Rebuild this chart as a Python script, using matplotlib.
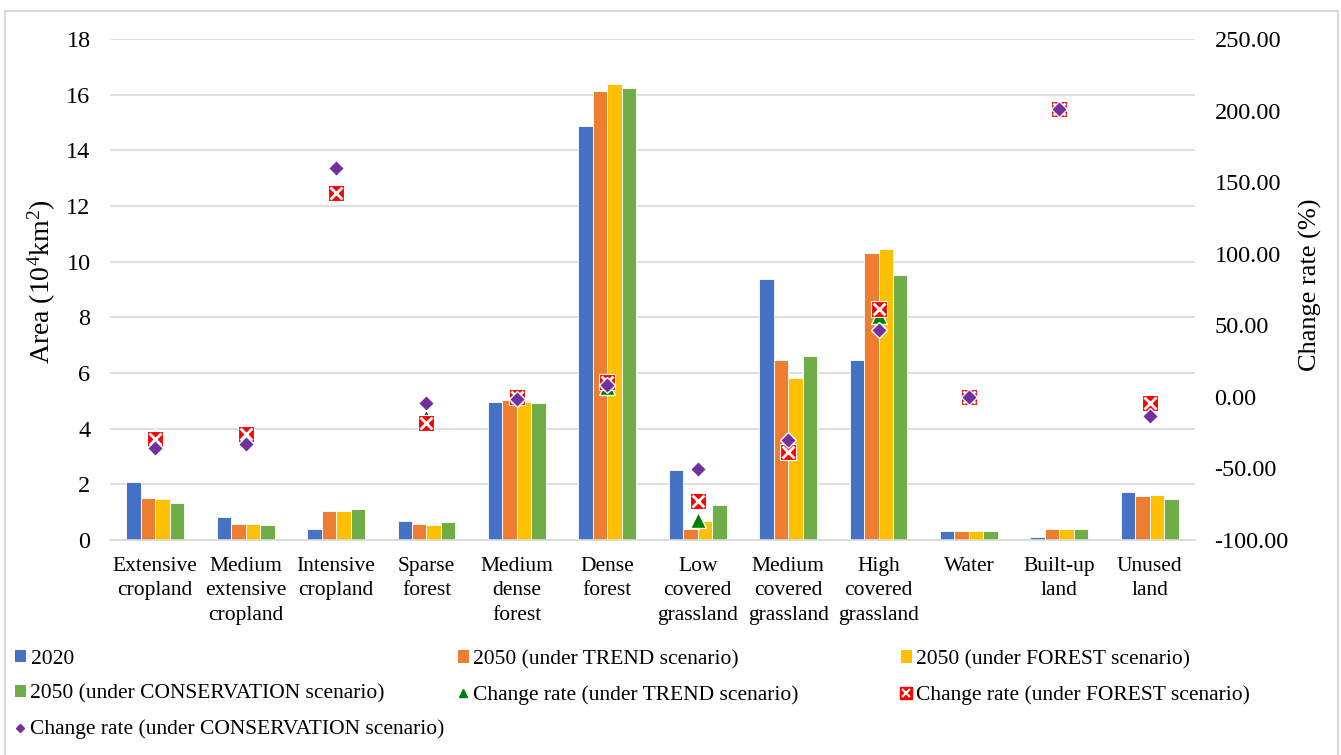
import matplotlib
matplotlib.use("Agg")
import matplotlib.pyplot as plt
import numpy as np
from matplotlib.lines import Line2D
from matplotlib.patches import Rectangle

plt.rcParams['font.family'] = ['Liberation Serif', 'DejaVu Serif']
plt.rcParams['mathtext.fontset'] = 'custom'
plt.rcParams['mathtext.rm'] = 'Liberation Serif'
plt.rcParams['mathtext.it'] = 'Liberation Serif:italic'

# land-use classes
categories = ["Extensive\ncropland", "Medium\nextensive\ncropland", "Intensive\ncropland",
              "Sparse\nforest", "Medium\ndense\nforest", "Dense\nforest",
              "Low\ncovered\ngrassland", "Medium\ncovered\ngrassland", "High\ncovered\ngrassland",
              "Water", "Built-up\nland", "Unused\nland"]

# area (10^4 km2)
area_2020 = [2.07, 0.83, 0.41, 0.67, 4.97, 14.88, 2.52, 9.39, 6.47, 0.32, 0.10, 1.71]
area_trend = [1.52, 0.58, 1.05, 0.57, 5.03, 16.13, 0.38, 6.48, 10.32, 0.32, 0.38, 1.58]
area_forest = [1.46, 0.58, 1.05, 0.55, 4.96, 16.39, 0.68, 5.82, 10.47, 0.32, 0.38, 1.63]
area_cons = [1.32, 0.54, 1.12, 0.65, 4.91, 16.25, 1.24, 6.60, 9.51, 0.32, 0.38, 1.47]

# change rate (%)
rate_trend = [-27.0, -26.0, 142.0, -14.0, 1.0, 7.0, -85.8, -32.0, 56.3, 0.0, 201.0, -5.0]
rate_forest = [-29.4, -25.9, 142.7, -18.3, -0.1, 10.1, -72.5, -38.4, 61.5, 0.0, 201.4, -4.1]
rate_cons = [-35.6, -33.0, 160.0, -4.3, -1.3, 8.5, -50.7, -30.1, 46.8, -0.3, 201.4, -13.1]

bar_colors = ["#4472C4", "#ED7D31", "#FFC000", "#70AD47"]
bar_labels = ["2020", "2050 (under TREND scenario)", "2050 (under FOREST scenario)",
              "2050 (under CONSERVATION scenario)"]
rate_labels = ["Change rate (under TREND scenario)", "Change rate (under FOREST scenario)",
               "Change rate (under CONSERVATION scenario)"]

W, H = 1341, 755
fig = plt.figure(figsize=(W / 100, H / 100), dpi=100)
ax = fig.add_axes([110 / W, 1 - 540 / H, (1195 - 110) / W, (540 - 39) / H])

x = np.arange(len(categories))
bw = 0.16
offsets = [-1.5 * bw, -0.5 * bw, 0.5 * bw, 1.5 * bw]
for vals, off, col in zip([area_2020, area_trend, area_forest, area_cons], offsets, bar_colors):
    ax.bar(x + off, vals, bw, color=col, edgecolor="white", linewidth=0.6, zorder=2)

ax.set_xlim(-0.5, len(categories) - 0.5)
ax.set_ylim(0, 18)
ax.set_yticks(np.arange(0, 19, 2))
ax.yaxis.grid(True, color="#D9D9D9", linewidth=1.2, zorder=0)
ax.set_axisbelow(True)
for s in ["top", "left", "right"]:
    ax.spines[s].set_visible(False)
ax.spines["bottom"].set_color("#D9D9D9")
ax.spines["bottom"].set_linewidth(1.2)
ax.set_xticks(x)
ax.set_xticklabels(categories, fontsize=15.5, linespacing=1.4)
ax.tick_params(axis="x", length=0, pad=12)
ax.tick_params(axis="y", length=0, pad=14, labelsize=17.5)

# change rate on secondary axis
ax2 = ax.twinx()
ax2.set_ylim(-100, 250)
ax2.set_yticks(np.arange(-100, 251, 50))
ax2.set_yticklabels([f"{v:.2f}" for v in np.arange(-100, 251, 50)])
for s in ax2.spines.values():
    s.set_visible(False)
ax2.tick_params(axis="y", length=0, pad=14, labelsize=17.5)

fig.text(42 / W, 1 - 282 / H, "Area (10$^4$km$^2$)", rotation=90, fontsize=20,
         ha="center", va="center")
fig.text(1310 / W, 1 - 285 / H, "Change rate (%)", rotation=90, fontsize=19,
         ha="center", va="center")

ax2.plot(x, rate_trend, ls="none", marker="^", ms=11, mfc="#008000", mec="white", mew=1, zorder=3)
ax2.plot(x, rate_forest, ls="none", marker="s", ms=11, mfc="#FF0000", mec="white", mew=0.8, zorder=4)
ax2.plot(x, rate_forest, ls="none", marker="x", ms=8, mec="white", mew=2, zorder=5)
ax2.plot(x, rate_cons, ls="none", marker="D", ms=8.5, mfc="#7030A0", mec="white", mew=1, zorder=6)

# legend proxies
h_bars = [Rectangle((0, 0), 1, 1, fc=c, ec="none") for c in bar_colors]
h_tri = Line2D([], [], ls="none", marker="^", ms=6, mfc="#008000", mec="#008000")
h_xs = (Line2D([], [], ls="none", marker="s", ms=8, mfc="#FF0000", mec="#FF0000"),
        Line2D([], [], ls="none", marker="x", ms=6, mec="white", mew=1.5))
h_dia = Line2D([], [], ls="none", marker="D", ms=4.5, mfc="#7030A0", mec="#7030A0")

cols = [
    ([h_bars[0], h_bars[3], h_dia], [bar_labels[0], bar_labels[3], rate_labels[2]], 15),
    ([h_bars[1], h_tri], [bar_labels[1], rate_labels[0]], 458),
    ([h_bars[2], h_xs], [bar_labels[2], rate_labels[1]], 901),
]
for hs, ls, xp in cols:
    fig.legend(hs, ls, loc="upper left", bbox_to_anchor=(xp / W, 1 - 650 / H),
               frameon=False, fontsize=15.5, borderaxespad=0, borderpad=0,
               handlelength=0.5, handleheight=0.5, handletextpad=0.22,
               labelspacing=0.73)

# chart border
fig.patches.append(Rectangle((5 / W, -0.01), (1338 - 5) / W, 1 - 11 / H + 0.01,
                             transform=fig.transFigure, fill=False,
                             ec="#D9D9D9", lw=1.5))

fig.savefig("out.png", dpi=100)
